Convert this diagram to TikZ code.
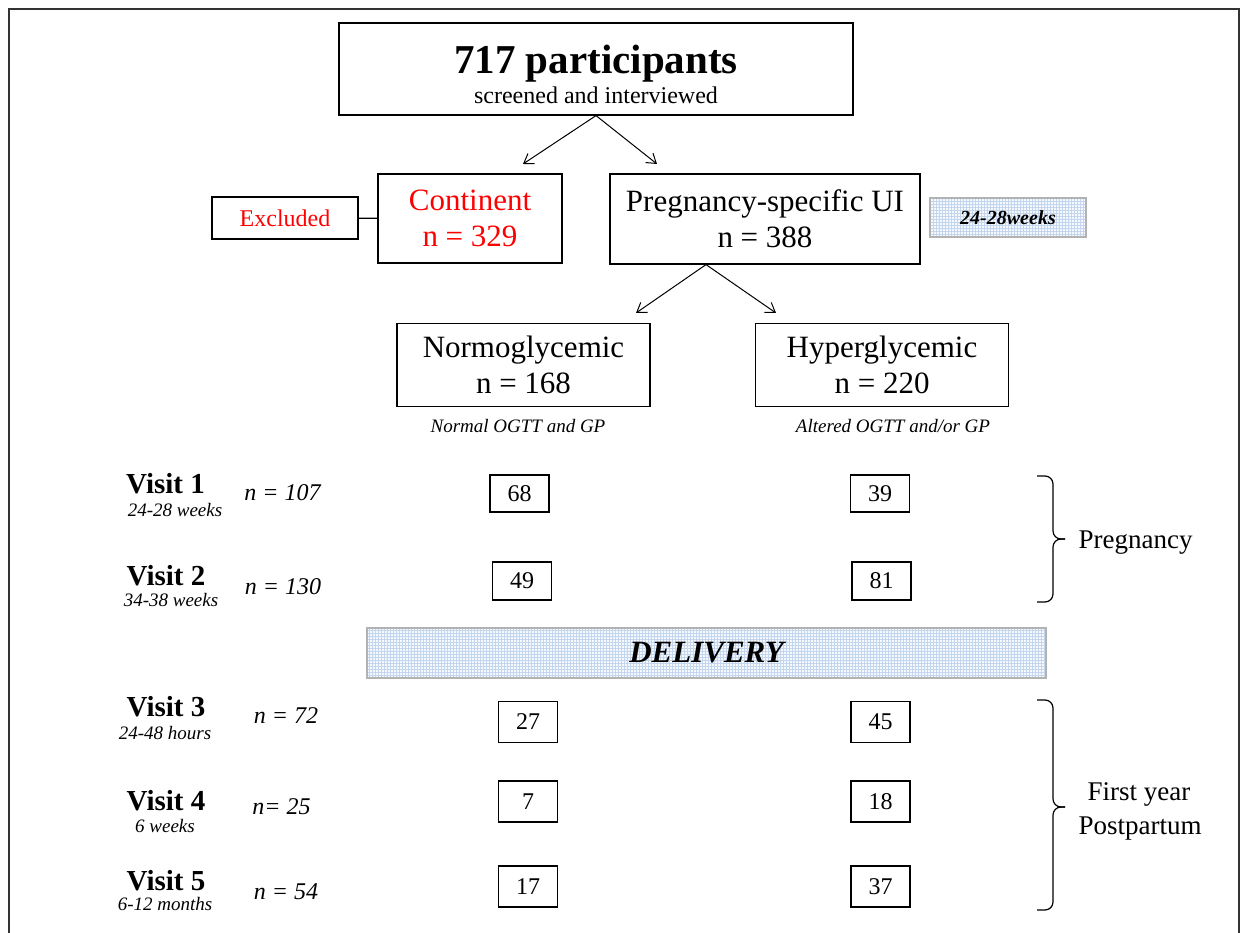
\documentclass[tikz,border=0pt]{standalone}
\usepackage{fontspec}
\setmainfont{Liberation Serif}
\usetikzlibrary{arrows.meta,patterns}
\newcommand{\pxfont}[2]{\fontsize{#1}{#2}\selectfont}
\definecolor{gridblue}{RGB}{196,213,238}
\definecolor{paleblue}{RGB}{245,248,253}
\begin{document}
\begin{tikzpicture}[x=1pt, y=-1pt, line width=1.2,
  box/.style={draw, line width=1.2, inner sep=0pt, align=center},
  grpbox/.style={box, minimum width=253, minimum height=83, font=\pxfont{31}{36}},
  cntbox/.style={box, minimum width=59, font=\pxfont{24}{28}},
  band/.style={draw=black!30, line width=1.5, preaction={fill=paleblue}, pattern=grid, pattern color=gridblue},
  note/.style={anchor=base, font=\pxfont{19}{22}\itshape},
  visit/.style={anchor=base, font=\pxfont{29}{32}\bfseries},
  when/.style={anchor=base, font=\pxfont{19}{22}\itshape},
  nval/.style={anchor=base, font=\pxfont{24}{28}\itshape},
  side/.style={anchor=base, font=\pxfont{27}{30}},
  arr/.style={-{Straight Barb[length=9,width=12]}, line width=1}]
\useasboundingbox (0,0) rectangle (1242,933);
% frame
\draw[line width=2, black!80] (9,933) -- (9,9) -- (1239,9) -- (1239,933);
% screening
\node[box, minimum width=514, minimum height=92] (all) at (596,69) {};
\node[anchor=base, font=\pxfont{41}{44}\bfseries] (allnum) at (596,74) {717 participants};
\node[anchor=base, font=\pxfont{24}{28}] (alltxt) at (596,104) {screened and interviewed};
\node[box, minimum width=184, minimum height=89, text=red, font=\pxfont{31}{36}] (cont) at (470,218.5) {Continent\\n = 329};
\node[box, minimum width=146, minimum height=42, text=red, font=\pxfont{24}{28}] (excl) at (285,218) {Excluded};
\node[box, minimum width=310, minimum height=90, font=\pxfont{31}{36}] (preg) at (765,219) {Pregnancy-specific UI\\n = 388};
\node[band, minimum width=156, minimum height=39, font=\pxfont{20}{24}\bfseries\itshape] (wk) at (1008,217.5) {24-28weeks};
\coordinate (a1) at (523,164);
\coordinate (a2) at (657,164);
\draw[arr] (all.south) -- (a1);
\draw[arr] (all.south) -- (a2);
\draw (excl) -- (cont);
% groups
\node[grpbox] (normo) at (523.5,365) {Normoglycemic\\n = 168};
\node[grpbox] (hyper) at (882,365) {Hyperglycemic\\n = 220};
\node[note] (normonote) at (518,432) {Normal OGTT and GP};
\node[note] (hypernote) at (893,432) {Altered OGTT and/or GP};
\coordinate (b0) at ([xshift=-59]preg.south);
\coordinate (b1) at (636,313);
\coordinate (b2) at (776,313);
\draw[arr] (b0) -- (b1);
\draw[arr] (b0) -- (b2);
% visits
\node[visit] (v1) at (165.5,493) {Visit 1};
\node[when] (v1w) at (175,516) {24-28 weeks};
\node[nval] (v1n) at (282.5,500) {n = 107};
\node[visit] (v2) at (166,585) {Visit 2};
\node[when] (v2w) at (171,606) {34-38 weeks};
\node[nval] (v2n) at (283,594) {n = 130};
\node[visit] (v3) at (166,716) {Visit 3};
\node[when] (v3w) at (165,739) {24-48 hours};
\node[nval] (v3n) at (286,723) {n = 72};
\node[visit] (v4) at (166,810) {Visit 4};
\node[when] (v4w) at (165,832) {6 weeks};
\node[nval] (v4n) at (281.5,814) {n= 25};
\node[visit] (v5) at (166,890) {Visit 5};
\node[when] (v5w) at (165,910) {6-12 months};
\node[nval] (v5n) at (286,899) {n = 54};
\foreach \i/\y/\h/\xa/\xb/\ca/\cb in {1/493.5/37/519.5/880/68/39, 2/581/38/522/881.5/49/81, 3/722/41/528/880.5/27/45, 4/801.5/41/528/880.5/7/18, 5/886.5/41/528/880.5/17/37} {
  \node[cntbox, minimum height=\h] (c\i a) at (\xa,\y) {\ca};
  \node[cntbox, minimum height=\h] (c\i b) at (\xb,\y) {\cb};
}
\node[band, minimum width=679, minimum height=50, font=\pxfont{31}{36}\bfseries\itshape] (deliv) at (706.5,653) {DELIVERY};
% periods
\foreach \t/\m/\b in {476/539/602, 700/807/910} {
  \draw[rounded corners=8] (1037,\t) -| (1053,\m) -- (1065,\m);
  \draw[rounded corners=8] (1065,\m) -- (1053,\m) |- (1037,\b);
}
\node[side] (pregtxt) at (1135.5,548) {Pregnancy};
\node[side] (pp1) at (1139,800) {First year};
\node[side] (pp2) at (1140,834) {Postpartum};
\end{tikzpicture}
\end{document}
